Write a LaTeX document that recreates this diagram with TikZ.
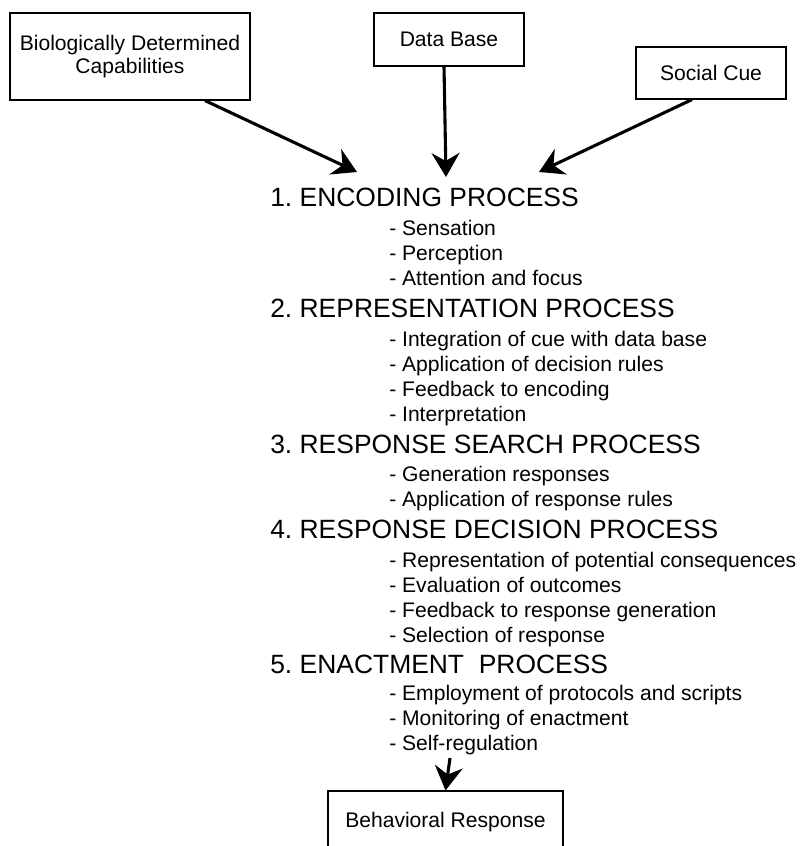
\documentclass[tikz,border=0pt]{standalone}
\usepackage{fontspec}
\setmainfont{Liberation Sans}
\usetikzlibrary{arrows.meta, positioning}
\frenchspacing

\begin{document}
\begin{tikzpicture}[
      x=0.025cm, y=-0.025cm,
      box/.style={draw, line width=0.8pt, inner sep=0pt, align=center,
          font=\fontsize{15}{16.5}\selectfont},
      stage/.style={anchor=base west, inner sep=0pt,
          font=\fontsize{18.8}{20}\selectfont},
      item/.style={anchor=base west, inner sep=0pt,
          font=\fontsize{15}{17}\selectfont},
      arr/.style={-{Stealth[length=6mm, width=7mm, inset=2mm]}, line width=2.2pt},
    ]
    \path[use as bounding box] (0,0) rectangle (804,846);
    \clip (0,0) rectangle (804,846);

    % Input boxes
    \node[box, minimum width=6cm, minimum height=2.175cm] (bio) at (130,56.5)
    {Biologically Determined\\Capabilities};
    \node[box, minimum width=3.75cm, minimum height=1.325cm] (db) at (449,39.5) {Data Base};
    \node[box, minimum width=3.75cm, minimum height=1.3cm] (cue) at (711,73) {Social Cue};

    % Arrow tips above stage 1
    \coordinate (tipL) at (357,172);
    \coordinate (tipM) at (446,177);
    \coordinate (tipR) at (539,172);

    \draw[arr] ([xshift=1.875cm]bio.south) -- (tipL);
    \draw[arr] ([xshift=-0.125cm]db.south) -- (tipM);
    \draw[arr] ([xshift=-0.475cm]cue.south) -- (tipR);

    % Stage 1
    \node[stage] (enc) at (270,207) {1. ENCODING PROCESS};
    \foreach \y/\txt [count=\k] in {235.5/Sensation, 260.5/Perception,
        285.5/Attention and focus} {
        \node[item] (enc\k) at (389,\y) {- \txt};
      }

    % Stage 2
    \node[stage] (rep) at (270,317.5) {2. REPRESENTATION PROCESS};
    \foreach \y/\txt [count=\k] in {346/Integration of cue with data base,
        371/Application of decision rules, 396/Feedback to encoding,
        421/Interpretation} {
        \node[item] (rep\k) at (389,\y) {- \txt};
      }

    % Stage 3
    \node[stage] (srch) at (270,453) {3. RESPONSE SEARCH PROCESS};
    \foreach \y/\txt [count=\k] in {481.5/Generation responses,
        506.5/Application of response rules} {
        \node[item] (srch\k) at (389,\y) {- \txt};
      }

    % Stage 4
    \node[stage] (dec) at (270,538.5) {4. RESPONSE DECISION PROCESS};
    \foreach \y/\txt [count=\k] in {567/Representation of potential consequences,
        592/Evaluation of outcomes, 617/Feedback to response generation,
        642/Selection of response} {
        \node[item] (dec\k) at (389,\y) {- \txt};
      }

    % Stage 5
    \node[stage] (enact) at (270,673) {5. ENACTMENT\ \ PROCESS};
    \foreach \y/\txt [count=\k] in {700.5/Employment of protocols and scripts,
        725.5/Monitoring of enactment, 750.5/Self-regulation} {
        \node[item] (enact\k) at (389,\y) {- \txt};
      }

    % Output
    \node[box, minimum width=5.875cm, minimum height=1.55cm] (resp) at (445.5,822)
    {Behavioral Response};
    \coordinate (tail) at (450,758);
    \draw[arr] (tail) -- (resp.north);
  \end{tikzpicture}
\end{document}
